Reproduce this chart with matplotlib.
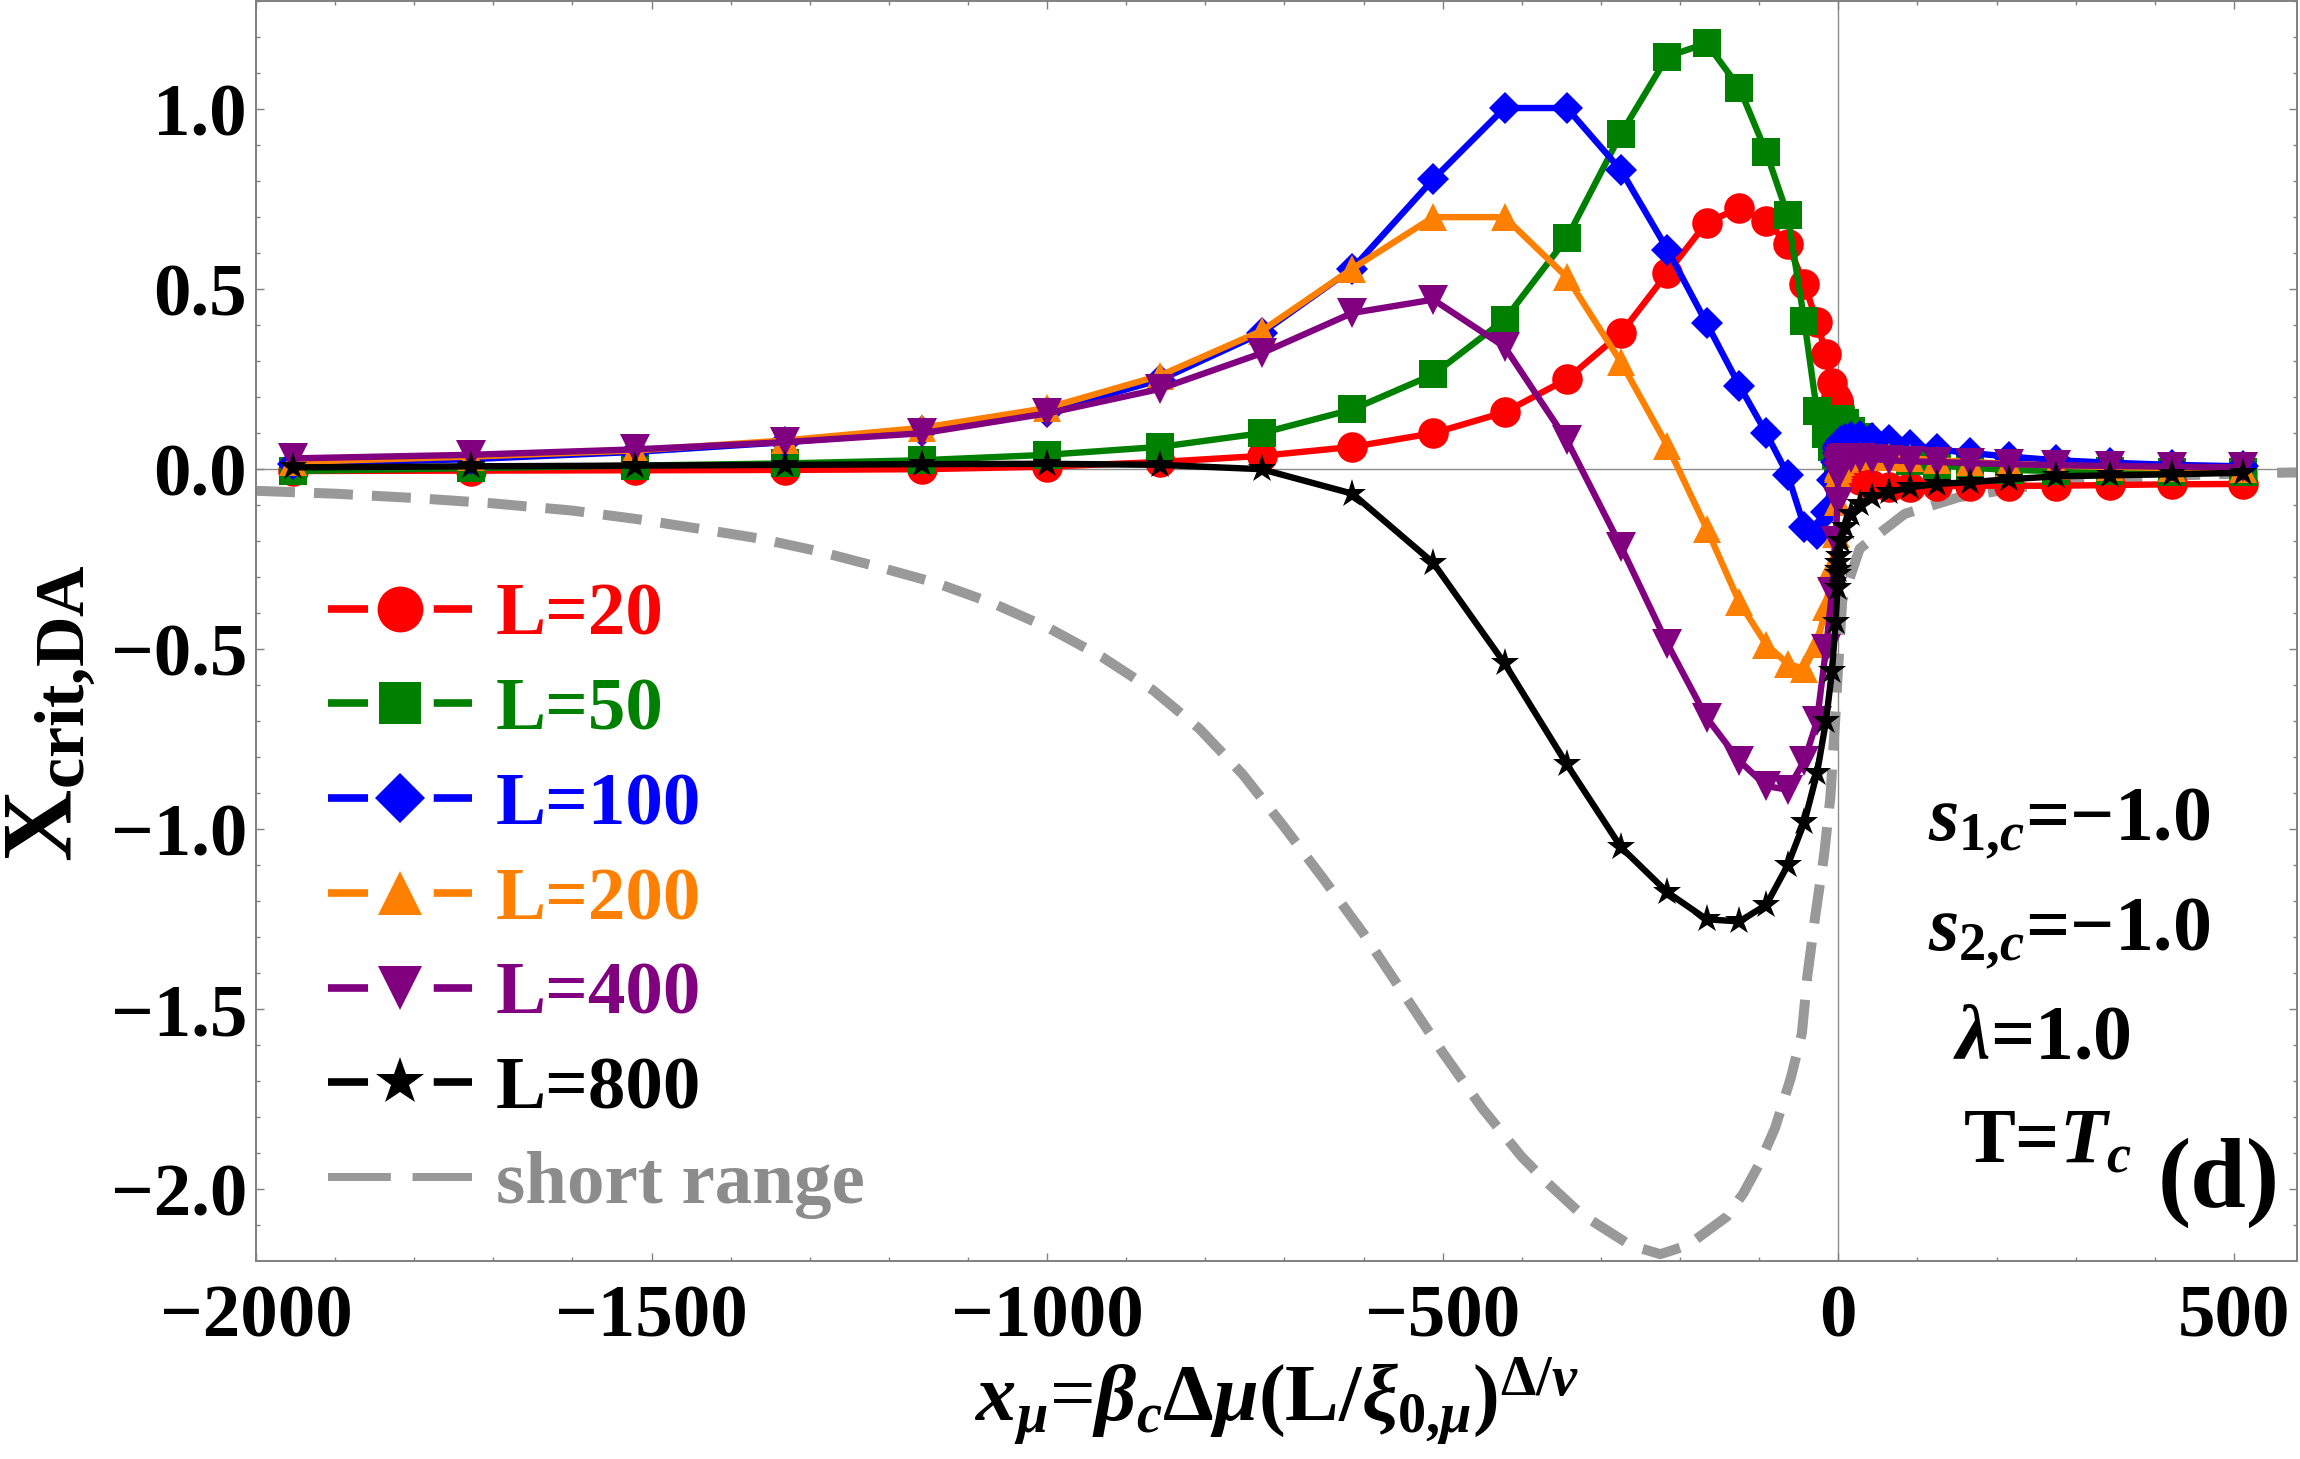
import matplotlib
matplotlib.use("Agg")
import matplotlib.pyplot as plt
from matplotlib.lines import Line2D
from matplotlib.ticker import MultipleLocator, FuncFormatter

plt.rcParams["font.family"] = ["Liberation Serif", "DejaVu Serif"]
plt.rcParams["font.weight"] = "bold"
plt.rcParams["mathtext.fontset"] = "custom"
plt.rcParams["mathtext.rm"] = "Liberation Serif:bold"
plt.rcParams["mathtext.it"] = "Liberation Serif:italic:bold"
plt.rcParams["mathtext.bf"] = "Liberation Serif:bold"

# sample points (x = s^3, s in steps of 0.5)
x_mu = [-1953.1, -1728.0, -1520.9, -1331.0, -1157.6, -1000.0, -857.4, -729.0,
        -614.1, -512.0, -421.9, -343.0, -274.6, -216.0, -166.4, -125.0, -91.1,
        -64.0, -42.9, -27.0, -15.6, -8.0, -3.4, -1.0, -0.1, 0.0, 0.1, 1.0, 3.4,
        8.0, 15.6, 27.0, 42.9, 64.0, 91.1, 125.0, 166.4, 216.0, 274.6, 343.0,
        421.9, 512.0]

chi_L20 = [-0.005, -0.004, -0.003, -0.002, 0.0, 0.007, 0.02, 0.037, 0.062, 0.10,
           0.158, 0.25, 0.378, 0.545, 0.685, 0.725, 0.69, 0.626, 0.514, 0.41,
           0.32, 0.24, 0.20, 0.19, 0.185, 0.185, 0.18, 0.17, 0.14, 0.08, 0.01,
           -0.03, -0.045, -0.05, -0.05, -0.047, -0.046, -0.046, -0.046, -0.044,
           -0.042, -0.041]
chi_L50 = [-0.005, 0.003, 0.01, 0.016, 0.025, 0.04, 0.062, 0.10, 0.166, 0.263,
           0.415, 0.642, 0.932, 1.146, 1.183, 1.059, 0.88, 0.706, 0.411, 0.161,
           0.098, 0.061, 0.04, 0.03, 0.03, 0.05, 0.14, 0.14, 0.135, 0.127, 0.107,
           0.089, 0.061, 0.038, 0.022, 0.012, 0.004, -0.002, -0.005, -0.006,
           -0.007, -0.007]
chi_L100 = [0.015, 0.028, 0.048, 0.075, 0.105, 0.16, 0.248, 0.378, 0.557, 0.805,
            1.003, 1.003, 0.83, 0.61, 0.405, 0.232, 0.10, -0.015, -0.16, -0.18,
            -0.12, -0.03, 0.02, 0.045, 0.055, 0.06, 0.065, 0.07, 0.078, 0.085,
            0.09, 0.092, 0.088, 0.08, 0.066, 0.055, 0.045, 0.035, 0.025, 0.018,
            0.012, 0.008]
chi_L200 = [0.02, 0.035, 0.052, 0.08, 0.115, 0.17, 0.26, 0.384, 0.557, 0.70,
            0.70, 0.533, 0.297, 0.065, -0.165, -0.37, -0.487, -0.54, -0.555,
            -0.485, -0.383, -0.272, -0.18, -0.09, -0.02, 0.0, 0.005, 0.012, 0.02,
            0.028, 0.033, 0.036, 0.037, 0.035, 0.03, 0.025, 0.02, 0.015, 0.01,
            0.006, 0.003, 0.001]
chi_L400 = [0.03, 0.04, 0.055, 0.075, 0.10, 0.155, 0.223, 0.322, 0.434, 0.471,
            0.34, 0.08, -0.215, -0.485, -0.69, -0.81, -0.88, -0.89, -0.81, -0.70,
            -0.50, -0.34, -0.20, -0.09, -0.02, 0.0, 0.01, 0.02, 0.027, 0.03, 0.03,
            0.03, 0.028, 0.025, 0.022, 0.02, 0.017, 0.014, 0.011, 0.009, 0.007,
            0.005]
chi_L800 = [0.005, 0.008, 0.01, 0.012, 0.014, 0.015, 0.012, 0.0, -0.068, -0.26,
            -0.539, -0.82, -1.05, -1.175, -1.25, -1.256, -1.21, -1.10, -0.98,
            -0.845, -0.70, -0.56, -0.425, -0.33, -0.29, -0.28, -0.26, -0.24,
            -0.20, -0.16, -0.125, -0.096, -0.078, -0.064, -0.05, -0.041, -0.036,
            -0.028, -0.02, -0.017, -0.014, -0.01]

# short range curve
sr_x = [-2000, -1900, -1800, -1700, -1600, -1517, -1441, -1365, -1289, -1214,
        -1140, -1068, -998, -931, -866, -808, -753, -702, -650, -600, -550,
        -500, -450, -400, -369, -326, -263, -225, -190, -141, -120, -100, -80,
        -60, -46, -39, -29, -18, -10, -7, -4, -1, 5, 27, 84, 152, 232, 323, 414,
        548, 580]
sr_y = [-0.060, -0.068, -0.080, -0.095, -0.115, -0.139, -0.165, -0.192, -0.228,
        -0.271, -0.316, -0.373, -0.441, -0.521, -0.614, -0.72, -0.847, -0.989,
        -1.14, -1.29, -1.455, -1.62, -1.775, -1.91, -1.979, -2.067, -2.155,
        -2.18, -2.155, -2.076, -2.011, -1.93, -1.83, -1.69, -1.566, -1.405,
        -1.239, -1.072, -0.91, -0.80, -0.70, -0.58, -0.364, -0.221, -0.124,
        -0.078, -0.05, -0.031, -0.018, -0.01, -0.009]

labels = ["L=20", "L=50", "L=100", "L=200", "L=400", "L=800"]
series = [chi_L20, chi_L50, chi_L100, chi_L200, chi_L400, chi_L800]
colors = ["#ff0000", "#008000", "#0000ff", "#ff8000", "#800080", "#000000"]
markers = ["o", "s", "D", "^", "v", "*"]
msizes = [22, 20, 16, 20, 21, 21]
leg_ms = [33, 30, 25, 32, 32, 36]
gray = "#999999"

fig = plt.figure(figsize=(23, 14.59), dpi=100)
ax = fig.add_axes([0.1113, 0.1357, 0.8873, 0.8638])

ax.axhline(0, color="#8c8c8c", lw=1.0, zorder=1)
ax.axvline(0, color="#8c8c8c", lw=1.0, zorder=1)

ax.plot(sr_x, sr_y, color=gray, lw=7.2, ls=(0, (3.9, 1.9)), zorder=2)

for i, (y, c, m, ms) in enumerate(zip(series, colors, markers, msizes)):
    ax.plot(x_mu, y, color=c, lw=4.6, marker=m, ms=ms, mec=c, mew=0, zorder=3 + i)

ax.set_xlim(-2000, 579.5)
ax.set_ylim(-2.199, 1.301)

ax.xaxis.set_major_locator(MultipleLocator(500))
ax.xaxis.set_minor_locator(MultipleLocator(100))
ax.yaxis.set_major_locator(MultipleLocator(0.5))
ax.yaxis.set_minor_locator(MultipleLocator(0.1))
ax.xaxis.set_major_formatter(FuncFormatter(lambda v, p: f"{v:.0f}".replace("-", "\u2212")))
ax.yaxis.set_major_formatter(FuncFormatter(lambda v, p: f"{v:.1f}".replace("-", "\u2212") if abs(v) > 1e-9 else "0.0"))

ax.tick_params(which="both", direction="in", top=True, right=True, color="#808080", width=1)
ax.tick_params(which="major", length=5.8, labelsize=54)
ax.tick_params(which="minor", length=3.2)
ax.tick_params(axis="x", pad=17)
ax.tick_params(axis="y", pad=6.5)
for sp in ax.spines.values():
    sp.set_color("#808080")
    sp.set_linewidth(1.4)

ax.set_xlabel(r"$x_{\mu}$=$\beta_c\Delta\mu(\mathrm{L}/\xi_{0{,}\mu})^{\Delta/\nu}$", fontsize=58, labelpad=2)
ax.set_ylabel(r"$\mathrm{X}_{\mathrm{crit{,}DA}}$", fontsize=72)
ax.yaxis.set_label_coords(-0.0775, 0.4346)

# legend
handles = []
for c, m, ms in zip(colors, markers, leg_ms):
    handles.append(Line2D([], [], color=c, lw=5.5, ls=(0, (5.24, 8.6)), marker=m, ms=ms, mew=0))
handles.append(Line2D([], [], color=gray, lw=5.8, ls=(0, (7.8, 2.7))))
leg = ax.legend(handles, labels + ["short range"], loc="upper left",
                bbox_to_anchor=(0.0353, 0.5385), frameon=False, fontsize=54,
                handlelength=1.92, handletextpad=0.32, labelspacing=0.35,
                borderpad=0, borderaxespad=0, numpoints=1)
for t, c in zip(leg.get_texts(), colors + ["#8c8c8c"]):
    t.set_color(c)

# parameters
ax.text(0.8192, 0.3339, "$s_{1{,}c}$=\u22121.0", transform=ax.transAxes, fontsize=56, ha="left", va="baseline")
ax.text(0.8192, 0.2466, "$s_{2{,}c}$=\u22121.0", transform=ax.transAxes, fontsize=56, ha="left", va="baseline")
ax.text(0.8315, 0.1610, r"$\lambda$=1.0", transform=ax.transAxes, fontsize=56, ha="left", va="baseline")
ax.text(0.8364, 0.0777, "T=$T_c$", transform=ax.transAxes, fontsize=56, ha="left", va="baseline")
ax.text(0.9319, 0.0619, "(d)", transform=ax.transAxes, fontsize=72, ha="left", va="center")

fig.savefig("out.png", dpi=100)
